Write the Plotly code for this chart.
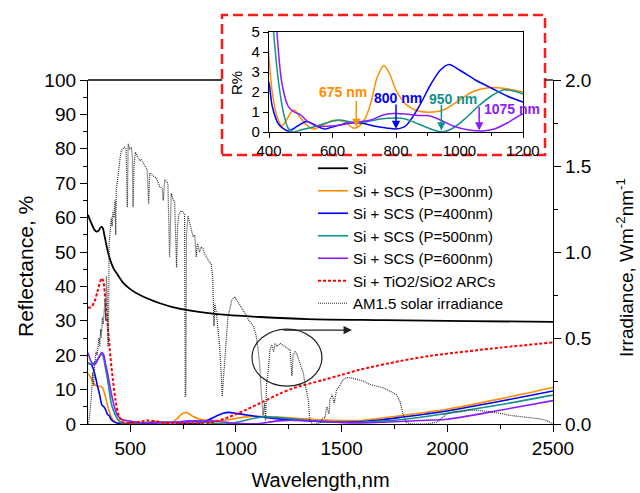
import plotly.graph_objects as go

# ---------------- data ----------------
si_wl = [300, 310, 320, 330, 341, 350, 358, 365, 371, 378, 386, 396, 410, 422, 436, 455, 470, 500, 530,
         600, 640, 700, 800, 956, 1114, 1341, 1700, 2100, 2500]
si_r = [60.8, 59.2, 57.8, 56.5, 55.9, 56.2, 57.0, 57.4, 56.8, 54.8, 52.3, 49.6, 46.8, 45.1, 43.8, 42.0,
        40.8, 39.2, 38.0, 36.0, 35.1, 34.0, 32.8, 31.7, 31.1, 30.5, 30.2, 29.9, 29.7]

p300_wl = [300, 315, 330, 345, 360, 370, 380, 392, 400, 410, 425, 440, 455, 470, 480, 495, 515, 540, 570,
           600, 640, 665, 680, 700, 720, 740, 762, 780, 800, 830, 870, 917, 950, 1000, 1040, 1085, 1130,
           1200, 1300, 1400, 1500, 1600, 1700, 1800, 1900, 2000, 2250, 2500]
p300_r = [14.7, 13.3, 11.6, 11.0, 10.9, 10.4, 8.5, 5.5, 3.7, 2.0, 0.8, 0.3, 0.6, 1.0, 1.1, 0.8, 0.4, 0.15,
          0.35, 0.58, 0.5, 0.2, 0.25, 0.6, 1.4, 2.7, 3.33, 2.9, 2.1, 1.4, 1.05, 1.0, 1.1, 1.6, 2.0, 2.2,
          2.2, 2.0, 1.6, 1.2, 1.0, 1.1, 1.8, 2.6, 3.4, 4.3, 7.3, 10.6]

p400_wl = [300, 315, 330, 345, 357, 366, 375, 383, 392, 400, 410, 430, 460, 490, 518, 545, 575, 610, 650,
           690, 730, 770, 800, 830, 870, 910, 940, 967, 1000, 1050, 1100, 1150, 1200, 1300, 1400, 1500,
           1600, 1700, 1800, 1900, 2000, 2250, 2500]
p400_r = [17.6, 17.4, 15.0, 11.0, 8.0, 5.5, 5.0, 4.2, 2.8, 2.45, 1.3, 0.4, 0.05, 0.3, 0.53, 0.35, 0.15,
          0.3, 0.45, 0.45, 0.3, 0.2, 0.15, 0.3, 1.2, 2.4, 3.1, 3.37, 3.1, 2.6, 2.2, 1.8, 1.5, 1.0, 0.7, 0.6,
          0.7, 1.3, 2.1, 2.9, 3.8, 6.6, 9.6]

p500_wl = [300, 315, 330, 345, 358, 365, 372, 382, 395, 410, 420, 430, 445, 460, 475, 500, 540, 580, 620,
           660, 700, 750, 800, 830, 870, 910, 945, 980, 1020, 1060, 1100, 1137, 1170, 1200, 1300, 1400,
           1500, 1600, 1700, 1800, 1900, 2000, 2250, 2500]
p500_r = [17.8, 17.4, 17.8, 18.8, 20.0, 20.3, 19.6, 16.5, 12.0, 6.0, 4.0, 2.5, 1.0, 0.2, 0.0, 0.1, 0.25,
          0.45, 0.6, 0.5, 0.5, 0.65, 0.7, 0.65, 0.4, 0.15, 0.0, 0.2, 0.7, 1.3, 1.8, 2.1, 2.05, 1.9, 1.3,
          0.8, 0.5, 0.5, 0.9, 1.4, 2.2, 3.1, 5.6, 8.4]

p600_wl = [300, 312, 325, 337, 350, 365, 373, 383, 395, 410, 425, 440, 460, 476, 500, 520, 550, 600, 660,
           720, 760, 791, 830, 870, 901, 940, 980, 1030, 1074, 1110, 1150, 1200, 1300, 1400, 1500, 1600,
           1700, 1800, 1900, 2000, 2250, 2500]
p600_r = [20.7, 18.5, 17.3, 17.6, 19.2, 20.8, 20.3, 17.5, 14.0, 9.0, 5.0, 2.5, 1.3, 1.03, 0.85, 0.55, 0.3,
          0.3, 0.45, 0.6, 0.85, 0.92, 0.9, 0.82, 0.82, 0.6, 0.3, 0.1, 0.05, 0.15, 0.45, 0.9, 1.1, 0.8,
          0.4, 0.3, 0.5, 0.8, 1.1, 1.4, 4.0, 6.8]

arc_wl = [300, 315, 330, 345, 358, 366, 374, 383, 395, 407, 418, 430, 442, 455, 466, 500, 550, 580, 620,
          660, 700, 800, 870, 900, 970, 1050, 1129, 1200, 1271, 1413, 1500, 1587, 1776, 1918, 2250, 2500]
arc_r = [33.8, 34.0, 35.5, 38.5, 41.5, 42.4, 41.0, 35.5, 27.3, 19.0, 12.8, 7.0, 3.2, 1.2, 0.4, 0.3, 0.7,
         1.0, 0.8, 0.3, 0.2, 0.2, 0.2, 0.6, 2.1, 4.2, 6.5, 8.6, 10.4, 12.8, 14.3, 15.8, 18.3, 19.8, 22.2,
         23.7]

sun_wl = [300, 305, 310, 316, 322, 326, 332, 338, 343, 347, 352, 356, 360, 363, 368, 372, 376, 380, 384,
          387, 391, 394, 397, 400, 404, 410, 414, 418, 423, 428, 431, 434, 440, 446, 452, 458, 465, 473,
          480, 486, 490, 497, 505, 510, 513, 518, 524, 529, 536, 544, 552, 560, 570, 580, 587, 592, 600,
          610, 623, 630, 639, 651, 656, 663, 670, 678, 686, 690, 694, 702, 710, 719, 724, 730, 741, 750,
          757, 760, 763, 766, 773, 785, 797, 805, 812, 818, 828, 836, 844, 852, 860, 870, 883, 890, 896,
          900, 907, 915, 923, 930, 935, 940, 946, 953, 962, 970, 980, 994, 1010, 1025, 1040, 1050, 1062,
          1073, 1085, 1096, 1104, 1112, 1120, 1128, 1135, 1140, 1145, 1152, 1161, 1170, 1178, 1185, 1195,
          1208, 1220, 1232, 1245, 1256, 1265, 1270, 1280, 1287, 1298, 1310, 1318, 1326, 1335, 1342, 1350,
          1360, 1380, 1400, 1410, 1421, 1430, 1440, 1445, 1455, 1465, 1476, 1490, 1508, 1525, 1539, 1555,
          1571, 1600, 1634, 1665, 1697, 1730, 1760, 1776, 1792, 1805, 1830, 1900, 1950, 1970, 1997, 2030,
          2060, 2100, 2139, 2180, 2217, 2260, 2296, 2340, 2375, 2438, 2470, 2500]
sun_irr = [0.0, 0.02, 0.08, 0.16, 0.30, 0.22, 0.35, 0.42, 0.40, 0.47, 0.50, 0.45, 0.55, 0.50, 0.62, 0.58,
           0.68, 0.72, 0.60, 0.86, 0.75, 0.45, 0.50, 1.05, 1.13, 1.20, 1.15, 1.24, 1.20, 1.30, 1.10, 1.36,
           1.42, 1.50, 1.55, 1.59, 1.60, 1.61, 1.60, 1.26, 1.63, 1.60, 1.61, 1.55, 1.26, 1.50, 1.58, 1.57,
           1.55, 1.53, 1.54, 1.52, 1.50, 1.48, 1.28, 1.46, 1.45, 1.44, 1.43, 1.41, 1.38, 1.37, 1.30, 1.42,
           1.41, 1.40, 0.97, 1.30, 1.34, 1.31, 1.29, 0.91, 1.15, 1.22, 1.24, 1.23, 1.22, 0.16, 0.16, 1.10,
           1.21, 1.15, 1.09, 1.10, 0.97, 1.05, 1.00, 1.03, 1.02, 0.99, 0.97, 0.95, 0.93, 0.85, 0.57, 0.70,
           0.65, 0.55, 0.45, 0.30, 0.16, 0.25, 0.35, 0.50, 0.62, 0.66, 0.72, 0.74, 0.71, 0.68, 0.65, 0.63,
           0.60, 0.585, 0.56, 0.51, 0.44, 0.35, 0.18, 0.05, 0.12, 0.02, 0.24, 0.30, 0.43, 0.46, 0.42, 0.47,
           0.45, 0.47, 0.46, 0.45, 0.44, 0.43, 0.28, 0.40, 0.42, 0.41, 0.37, 0.33, 0.30, 0.24, 0.18, 0.14,
           0.02, 0.0, 0.0, 0.01, 0.03, 0.04, 0.10, 0.06, 0.14, 0.17, 0.12, 0.20, 0.22, 0.26, 0.27, 0.27,
           0.265, 0.26, 0.25, 0.23, 0.22, 0.21, 0.19, 0.17, 0.13, 0.05, 0.01, 0.0, 0.0, 0.01, 0.03, 0.06,
           0.07, 0.07, 0.08, 0.08, 0.075, 0.07, 0.06, 0.05, 0.045, 0.04, 0.03, 0.02, 0.0]

legend_names = ["Si", "Si + SCS (P=300nm)", "Si + SCS (P=400nm)", "Si + SCS (P=500nm)",
                "Si + SCS (P=600nm)", "Si + TiO2/SiO2 ARCs", "AM1.5 solar irradiance"]
inset_labels = ["675 nm", "800 nm", "950 nm", "1075 nm"]
inset_marks = [675, 800, 943, 1062]

# ---------------- styling ----------------
W, H = 640, 493
FONT = "Arial, Liberation Sans, sans-serif"
C_OR, C_BL, C_TE, C_PU = "#FF8C00", "#0000FF", "#12908A", "#8A1CFF"
SMOOTH = 0.8


def px(x):
    return x / W


def py(y):
    return (H - y) / H


fig = go.Figure()

fig.add_trace(go.Scatter(x=si_wl, y=si_r, name=legend_names[0], mode="lines",
                         line=dict(color="black", width=1.8, shape="spline", smoothing=SMOOTH),
                         xaxis="x", yaxis="y"))
scs = [(p300_wl, p300_r, C_OR), (p400_wl, p400_r, C_BL), (p500_wl, p500_r, C_TE), (p600_wl, p600_r, C_PU)]
for i, (wl, r, c) in enumerate(scs):
    fig.add_trace(go.Scatter(x=wl, y=r, name=legend_names[i + 1], mode="lines",
                             line=dict(color=c, width=1.6, shape="spline", smoothing=SMOOTH),
                             xaxis="x", yaxis="y"))
fig.add_trace(go.Scatter(x=arc_wl, y=arc_r, name=legend_names[5], mode="lines",
                         line=dict(color="#FF0000", width=2, dash="3px,2px", shape="spline", smoothing=SMOOTH),
                         xaxis="x", yaxis="y"))
fig.add_trace(go.Scatter(x=sun_wl, y=sun_irr, name=legend_names[6], mode="lines",
                         line=dict(color="#333333", width=1.2, dash="1px,1px"), xaxis="x", yaxis="y2"))
# inset copies
for wl, r, c in scs:
    fig.add_trace(go.Scatter(x=wl, y=r, mode="lines", showlegend=False,
                             line=dict(color=c, width=1.5, shape="spline", smoothing=SMOOTH),
                             xaxis="x2", yaxis="y3"))

ax_common = dict(showline=True, linecolor="black", linewidth=1.3, showgrid=False, zeroline=False,
                 ticks="outside", tickcolor="black", automargin=False)

fig.update_layout(
    width=W, height=H, margin=dict(l=0, r=0, t=0, b=0),
    paper_bgcolor="white", plot_bgcolor="rgba(0,0,0,0)",
    font=dict(family=FONT, color="black"),
    xaxis=dict(domain=[px(88), px(553)], range=[300, 2500], tick0=0, dtick=500, ticklen=7,
               tickfont=dict(size=19), anchor="y",
               minor=dict(ticks="outside", ticklen=4, dtick=250, tick0=0, tickcolor="black"),
               title=dict(text="Wavelength,nm", font=dict(size=20), standoff=15), **ax_common),
    yaxis=dict(domain=[py(424), py(80)], range=[0, 100], dtick=10, ticklen=7, tickfont=dict(size=19),
               anchor="x", minor=dict(ticks="outside", ticklen=4, dtick=5, tickcolor="black"), **ax_common),
    yaxis2=dict(overlaying="y", side="right", anchor="x", range=[0, 2], dtick=0.5, tickformat=".1f",
                ticklen=7, tickfont=dict(size=19),
                minor=dict(ticks="outside", ticklen=4, dtick=0.25, tickcolor="black"), **ax_common),
    xaxis2=dict(domain=[px(269), px(523)], range=[400, 1200], dtick=200, ticklen=5, anchor="y3",
                mirror=True, tickfont=dict(size=15),
                minor=dict(ticks="outside", ticklen=3, dtick=100, tickcolor="black"), **ax_common),
    yaxis3=dict(domain=[py(132), py(32)], range=[0, 5], dtick=1, ticklen=5, anchor="x2", mirror=True,
                tickfont=dict(size=15), **ax_common),
    legend=dict(x=px(313), y=py(152), xanchor="left", yanchor="top", bgcolor="rgba(0,0,0,0)",
                font=dict(size=15, family=FONT), borderwidth=0, tracegroupgap=0),
    showlegend=True,
)

shapes = [
    # white inset panel with red dashed border
    dict(type="rect", xref="paper", yref="paper", x0=px(222), x1=px(545), y0=py(155), y1=py(15),
         fillcolor="white", line=dict(color="#FF1A1A", width=2.5, dash="10px,5px"), layer="below"),
    # top frame of the main plot (hidden behind the inset box)
    dict(type="line", xref="paper", yref="paper", x0=px(88), x1=px(222), y0=py(80), y1=py(80),
         line=dict(color="black", width=1.3)),
    dict(type="line", xref="paper", yref="paper", x0=px(545), x1=px(553), y0=py(80), y1=py(80),
         line=dict(color="black", width=1.3)),
    # ellipse around the 1100-1400 nm band
    dict(type="circle", xref="x", yref="y", x0=1076, x1=1407, y0=11.0, y1=27.6,
         line=dict(color="#222222", width=1.2)),
]
fig.update_layout(shapes=shapes)

ann = [
    dict(text="Reflectance, %", xref="paper", yref="paper", x=px(25), y=py(267), textangle=-90,
         showarrow=False, font=dict(size=21), xanchor="center", yanchor="middle"),
    dict(text="Irradiance, Wm<sup>-2</sup>nm<sup>-1</sup>", xref="paper", yref="paper", x=px(625), y=py(268),
         textangle=-90, showarrow=False, font=dict(size=19), xanchor="center", yanchor="middle"),
    dict(text="R%", xref="paper", yref="paper", x=px(237), y=py(83), textangle=-90, showarrow=False,
         font=dict(size=15), xanchor="center", yanchor="middle"),
    # arrow from ellipse to right axis
    dict(text="", xref="x", yref="y", axref="x", ayref="y", x=1549, y=27.3, ax=1218, ay=27.3,
         showarrow=True, arrowhead=2, arrowsize=1.4, arrowwidth=1.2, arrowcolor="#222222"),
]
label_pos = [(633, 2.0), (807, 1.71), (980, 1.65), (1166, 1.15)]
arrow_y = [(1.62, 0.25), (1.45, 0.15), (1.42, 0.08), (1.32, 0.07)]
cols = [C_OR, C_BL, C_TE, C_PU]
for lab, (lx, ly), xm, (yt, yh), c in zip(inset_labels, label_pos, inset_marks, arrow_y, cols):
    ann.append(dict(text="<b>%s</b>" % lab, xref="x2", yref="y3", x=lx, y=ly, showarrow=False,
                    font=dict(size=14, color=c), xanchor="center", yanchor="middle"))
    ann.append(dict(text="", xref="x2", yref="y3", axref="x2", ayref="y3", x=xm, y=yh, ax=xm, ay=yt,
                    showarrow=True, arrowhead=2, arrowsize=1.1, arrowwidth=1.5, arrowcolor=c))
fig.update_layout(annotations=ann)

fig.write_html("out.html")
